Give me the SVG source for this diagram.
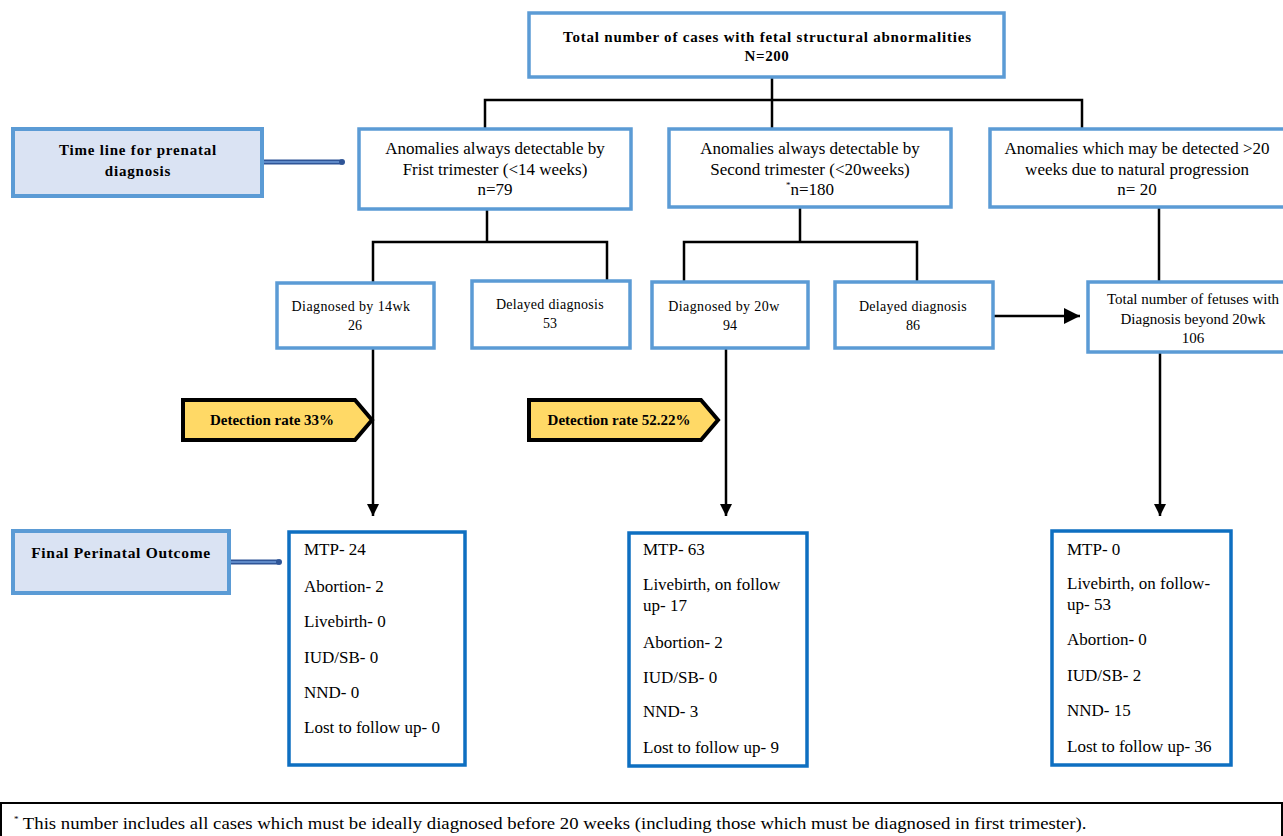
<svg xmlns="http://www.w3.org/2000/svg" width="1283" height="836" viewBox="0 0 1283 836" font-family="'Liberation Serif', 'DejaVu Serif', serif">
<defs>
<style>
.box{fill:#ffffff;stroke:#5b9bd5;stroke-width:3.5}
.side{fill:#dae3f3;stroke:#5b9bd5;stroke-width:4}
.out{fill:#ffffff;stroke:#0e6fc1;stroke-width:3.5}
.det{fill:#ffd966;stroke:#000000;stroke-width:4;stroke-linejoin:miter}
.ln{fill:none;stroke:#000000;stroke-width:2.5}
text{font-family:'Liberation Serif','DejaVu Serif',serif;fill:#000000}
.b{font-weight:bold}
.mid{text-anchor:middle}
.dbl{stroke:#2f5597;stroke-width:5;fill:none}
.dbli{stroke:#6f9bd8;stroke-width:1.5;fill:none}
</style>
<marker id="ah" viewBox="0 0 10 10" refX="10" refY="5" markerWidth="12" markerHeight="12" markerUnits="userSpaceOnUse" orient="auto">
<path d="M0,0 L10,5 L0,10 z" fill="#000000"/>
</marker>
<marker id="ah2" viewBox="0 0 10 10" refX="10" refY="5" markerWidth="16" markerHeight="16" markerUnits="userSpaceOnUse" orient="auto">
<path d="M0,0 L10,5 L0,10 z" fill="#000000"/>
</marker>
</defs>
<rect width="1283" height="836" fill="#ffffff"/>

<g id="connectors">
<path class="ln" d="M772,77 V128"/>
<path class="ln" d="M485,128 V100 H1082 V128"/>
<path class="ln" d="M487,209 V242"/>
<path class="ln" d="M373,283 V242 H607 V280"/>
<path class="ln" d="M800,207 V242"/>
<path class="ln" d="M684,281 V242 H917 V281"/>
<path class="ln" d="M1159,207 V281"/>
<path class="ln" d="M993,316 H1080" marker-end="url(#ah2)"/>
<path class="ln" d="M373,348 V516" marker-end="url(#ah)"/>
<path class="ln" d="M726,348 V516" marker-end="url(#ah)"/>
<path class="ln" d="M1160,352 V516" marker-end="url(#ah)"/>
<path class="dbl" d="M263,162 H341"/>
<path class="dbli" d="M263,162 H341"/>
<circle cx="342" cy="162" r="3" fill="#2f5597"/>
<path class="dbl" d="M230,562 H278"/>
<path class="dbli" d="M230,562 H278"/>
<circle cx="279" cy="562" r="3" fill="#2f5597"/>
</g>

<g id="n-total">
<rect class="box" x="529" y="13" width="475" height="64"/>
<text class="b mid" x="767" y="42" font-size="15" textLength="408">Total number of cases with fetal structural abnormalities</text>
<text class="b mid" x="767" y="61" font-size="15" letter-spacing="0.6">N=200</text>
</g>

<g id="n-timeline">
<rect class="side" x="13" y="129" width="249" height="67"/>
<text class="b mid" x="138" y="155" font-size="15" letter-spacing="0.8">Time line for prenatal</text>
<text class="b mid" x="138" y="176" font-size="15" letter-spacing="0.8">diagnosis</text>
</g>

<g id="n-first">
<rect class="box" x="359" y="129" width="272" height="80"/>
<text class="mid" x="495" y="154" font-size="17">Anomalies always detectable by</text>
<text class="mid" x="495" y="175" font-size="17">Frist trimester (&lt;14 weeks)</text>
<text class="mid" x="495" y="195" font-size="17">n=79</text>
</g>

<g id="n-second">
<rect class="box" x="669" y="129" width="282" height="78"/>
<text class="mid" x="810" y="154" font-size="17">Anomalies always detectable by</text>
<text class="mid" x="810" y="175" font-size="17">Second trimester (&lt;20weeks)</text>
<text class="mid" x="810" y="195" font-size="17"><tspan font-size="9" dy="-7">*</tspan><tspan dy="7">n=180</tspan></text>
</g>

<g id="n-third">
<rect class="box" x="990" y="129" width="298" height="78"/>
<text class="mid" x="1137" y="154" font-size="17">Anomalies which may be detected &gt;20</text>
<text class="mid" x="1137" y="175" font-size="17">weeks due to natural progression</text>
<text class="mid" x="1137" y="195" font-size="17">n= 20</text>
</g>

<g id="n-diag14">
<rect class="box" x="277" y="283" width="157" height="65"/>
<text class="mid" x="351" y="311" font-size="14" letter-spacing="0.4">Diagnosed by 14wk</text>
<text class="mid" x="355" y="330" font-size="14">26</text>
</g>

<g id="n-delay53">
<rect class="box" x="472" y="281" width="158" height="67"/>
<text class="mid" x="550" y="309" font-size="14" letter-spacing="0.3">Delayed diagnosis</text>
<text class="mid" x="550" y="328" font-size="14">53</text>
</g>

<g id="n-diag20">
<rect class="box" x="652" y="282" width="156" height="66"/>
<text class="mid" x="724" y="311" font-size="14" letter-spacing="0.4">Diagnosed by 20w</text>
<text class="mid" x="730" y="330" font-size="14">94</text>
</g>

<g id="n-delay86">
<rect class="box" x="835" y="282" width="158" height="66"/>
<text class="mid" x="913" y="311" font-size="14" letter-spacing="0.3">Delayed diagnosis</text>
<text class="mid" x="913" y="330" font-size="14">86</text>
</g>

<g id="n-beyond">
<rect class="box" x="1088" y="282" width="200" height="70"/>
<text class="mid" x="1193" y="304" font-size="15">Total number of fetuses with</text>
<text class="mid" x="1193" y="324" font-size="15">Diagnosis beyond 20wk</text>
<text class="mid" x="1193" y="343" font-size="15">106</text>
</g>

<g id="n-det33">
<path class="det" d="M183,400 H355 L372,420 L355,440 H183 Z"/>
<text class="b mid" x="272" y="425" font-size="15">Detection rate 33%</text>
</g>

<g id="n-det52">
<path class="det" d="M529,400 H701 L718,420 L701,440 H529 Z"/>
<text class="b mid" x="619" y="425" font-size="15">Detection rate 52.22%</text>
</g>

<g id="n-final">
<rect class="side" x="13" y="531" width="216" height="62"/>
<text class="b mid" x="121" y="558" font-size="15.5" letter-spacing="0.7">Final Perinatal Outcome</text>
</g>

<g id="n-out1">
<rect class="out" x="289" y="532" width="176" height="233"/>
<g font-size="17">
<text x="304" y="555">MTP- 24</text>
<text x="304" y="592">Abortion- 2</text>
<text x="304" y="627">Livebirth- 0</text>
<text x="304" y="663">IUD/SB- 0</text>
<text x="304" y="698">NND- 0</text>
<text x="304" y="733">Lost to follow up- 0</text>
</g>
</g>

<g id="n-out2">
<rect class="out" x="629" y="533" width="178" height="233"/>
<g font-size="17">
<text x="643" y="555">MTP- 63</text>
<text x="643" y="590">Livebirth, on follow</text>
<text x="643" y="611">up- 17</text>
<text x="643" y="648">Abortion- 2</text>
<text x="643" y="683">IUD/SB- 0</text>
<text x="643" y="717">NND- 3</text>
<text x="643" y="753">Lost to follow up- 9</text>
</g>
</g>

<g id="n-out3">
<rect class="out" x="1052" y="531" width="179" height="234"/>
<g font-size="17">
<text x="1067" y="555">MTP- 0</text>
<text x="1067" y="589">Livebirth, on follow-</text>
<text x="1067" y="610">up- 53</text>
<text x="1067" y="645">Abortion- 0</text>
<text x="1067" y="681">IUD/SB- 2</text>
<text x="1067" y="716">NND- 15</text>
<text x="1067" y="752">Lost to follow up- 36</text>
</g>
</g>

<g id="n-footnote">
<rect x="1" y="803" width="1281" height="40" fill="#ffffff" stroke="#000000" stroke-width="2"/>
<text x="14" y="829" font-size="16"><tspan font-size="9" dy="-7">*</tspan><tspan dy="7" textLength="1068" lengthAdjust="spacingAndGlyphs"> This number includes all cases which must be ideally diagnosed before 20 weeks (including those which must be diagnosed in first trimester).</tspan></text>
</g>
</svg>
